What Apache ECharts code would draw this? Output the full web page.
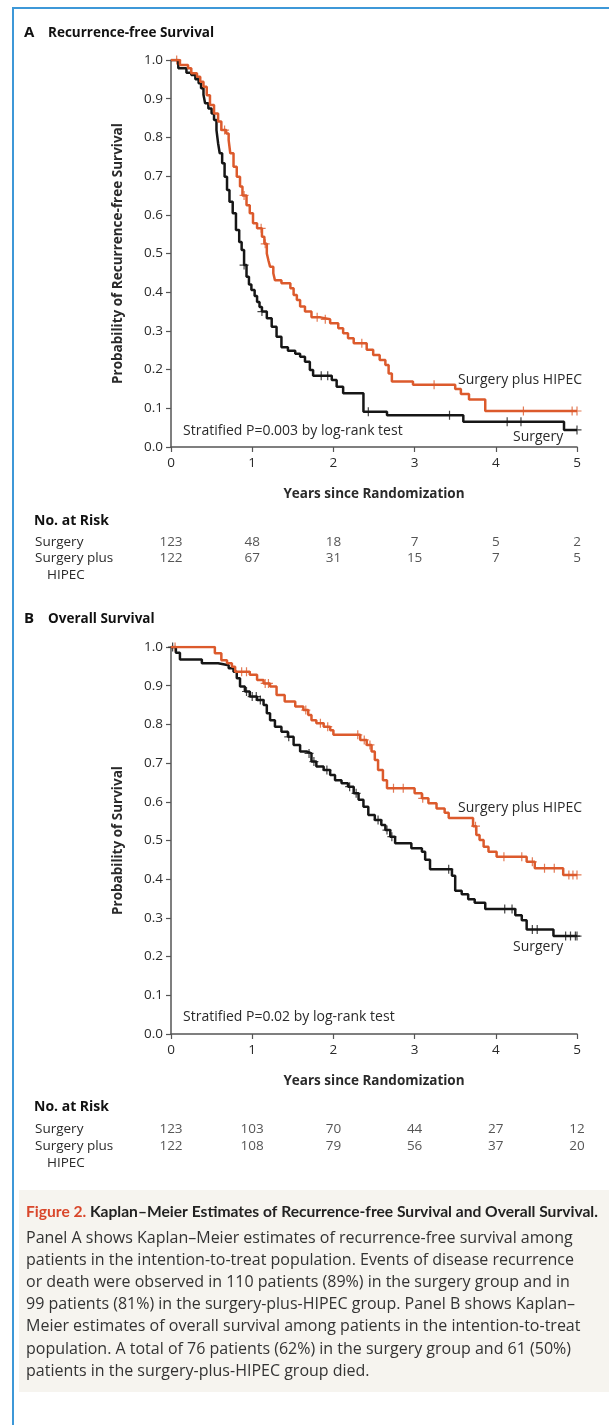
<!DOCTYPE html>
<html><head><meta charset="utf-8">
<script src="https://cdn.jsdelivr.net/npm/echarts@6/dist/echarts.min.js"></script>
<style>html,body{margin:0;padding:0;background:#fff}#c{width:609px;height:1425px}</style>
</head><body><div id="c"></div>
<script>
// ---------- data ----------
const yearTicks = [0, 1, 2, 3, 4, 5];
const riskRows = ['Surgery', 'Surgery plus', 'HIPEC'];

// Panel A: recurrence-free survival, [years, probability after step]
const rfsSurgery = [[0,1.0],[0.09,0.979],[0.19,0.967],[0.25,0.961],[0.30,0.950],[0.34,0.940],[0.37,0.927],[0.40,0.910],[0.42,0.888],[0.46,0.875],[0.50,0.862],[0.53,0.845],[0.56,0.819],[0.58,0.785],[0.60,0.759],[0.63,0.733],[0.66,0.698],[0.69,0.664],[0.72,0.634],[0.76,0.604],[0.80,0.561],[0.84,0.530],[0.87,0.509],[0.90,0.470],[0.93,0.440],[0.96,0.420],[0.99,0.406],[1.03,0.390],[1.06,0.375],[1.09,0.362],[1.12,0.350],[1.18,0.333],[1.24,0.311],[1.30,0.285],[1.36,0.258],[1.44,0.249],[1.53,0.241],[1.59,0.233],[1.65,0.220],[1.71,0.199],[1.75,0.184],[1.98,0.173],[2.04,0.156],[2.12,0.139],[2.37,0.091],[2.66,0.082],[3.60,0.065],[4.84,0.044],[5.0,0.044]];
const rfsSurgeryCensor = [0.90,1.12,1.85,1.93,2.43,3.43,4.14,4.31,5.0];
const rfsHipec = [[0,1.0],[0.11,0.987],[0.21,0.979],[0.25,0.966],[0.32,0.957],[0.36,0.944],[0.40,0.931],[0.44,0.909],[0.48,0.884],[0.53,0.862],[0.58,0.841],[0.62,0.819],[0.68,0.810],[0.71,0.793],[0.73,0.759],[0.77,0.724],[0.81,0.698],[0.85,0.673],[0.88,0.650],[0.93,0.625],[0.97,0.604],[1.01,0.578],[1.06,0.565],[1.12,0.543],[1.15,0.525],[1.18,0.500],[1.20,0.482],[1.22,0.466],[1.26,0.449],[1.28,0.431],[1.36,0.423],[1.47,0.410],[1.51,0.393],[1.55,0.380],[1.59,0.363],[1.65,0.350],[1.73,0.335],[1.84,0.330],[1.96,0.320],[2.06,0.307],[2.12,0.294],[2.18,0.281],[2.25,0.268],[2.41,0.251],[2.49,0.238],[2.57,0.225],[2.64,0.212],[2.68,0.190],[2.72,0.169],[2.98,0.161],[3.50,0.150],[3.57,0.137],[3.67,0.123],[3.87,0.093],[5.0,0.093]];
const rfsHipecCensor = [0.07,0.66,0.90,1.11,1.16,1.80,1.90,2.35,3.24,4.34,4.94,5.0];

// Panel B: overall survival
const osSurgery = [[0,1.0],[0.06,0.985],[0.11,0.968],[0.38,0.958],[0.58,0.953],[0.71,0.945],[0.77,0.936],[0.81,0.919],[0.85,0.898],[0.91,0.885],[0.97,0.872],[1.06,0.863],[1.14,0.850],[1.18,0.829],[1.22,0.811],[1.28,0.794],[1.36,0.781],[1.44,0.768],[1.51,0.747],[1.59,0.730],[1.67,0.725],[1.73,0.704],[1.79,0.691],[1.88,0.682],[1.96,0.669],[2.02,0.656],[2.10,0.648],[2.18,0.639],[2.25,0.622],[2.31,0.605],[2.37,0.587],[2.43,0.566],[2.51,0.553],[2.59,0.540],[2.64,0.527],[2.70,0.510],[2.76,0.493],[2.96,0.480],[3.09,0.471],[3.13,0.450],[3.19,0.426],[3.46,0.409],[3.50,0.370],[3.58,0.361],[3.66,0.348],[3.74,0.339],[3.87,0.323],[4.24,0.307],[4.32,0.294],[4.38,0.270],[4.71,0.253],[5.0,0.253]];
const osSurgeryCensor = [0.02,0.93,1.00,1.05,1.10,1.45,1.70,1.76,1.92,2.20,2.28,2.55,2.66,2.72,3.42,4.11,4.20,4.45,4.51,4.86,4.92,4.98,5.0];
const osHipec = [[0,1.0],[0.54,0.984],[0.62,0.966],[0.69,0.958],[0.75,0.949],[0.79,0.936],[0.97,0.928],[1.06,0.915],[1.14,0.906],[1.22,0.898],[1.30,0.876],[1.40,0.859],[1.53,0.846],[1.63,0.837],[1.69,0.824],[1.73,0.811],[1.79,0.803],[1.88,0.794],[1.96,0.785],[2.00,0.773],[2.33,0.760],[2.41,0.747],[2.47,0.730],[2.51,0.708],[2.55,0.682],[2.61,0.656],[2.66,0.635],[3.00,0.622],[3.09,0.609],[3.17,0.596],[3.27,0.583],[3.37,0.572],[3.42,0.558],[3.72,0.537],[3.76,0.514],[3.80,0.501],[3.85,0.484],[3.91,0.471],[4.01,0.458],[4.38,0.445],[4.48,0.428],[4.83,0.411],[5.0,0.411]];
const osHipecCensor = [0.05,0.87,0.93,1.16,1.20,1.66,1.84,1.93,2.30,2.38,2.45,2.74,2.86,3.10,3.75,4.10,4.32,4.45,4.60,4.72,4.90,4.95,5.0];

// numbers at risk at yearTicks
const riskA_surgery = [123, 48, 18, 7, 5, 2];
const riskA_hipec = [122, 67, 31, 15, 7, 5];
const riskB_surgery = [123, 103, 70, 44, 27, 12];
const riskB_hipec = [122, 108, 79, 56, 37, 20];

const captionLines = [
  'Panel A shows Kaplan\u2013Meier estimates of recurrence-free survival among',
  'patients in the intention-to-treat population. Events of disease recurrence',
  'or death were observed in 110 patients (89%) in the surgery group and in',
  '99 patients (81%) in the surgery-plus-HIPEC group. Panel B shows Kaplan\u2013',
  'Meier estimates of overall survival among patients in the intention-to-treat',
  'population. A total of 76 patients (62%) in the surgery group and 61 (50%)',
  'patients in the surgery-plus-HIPEC group died.'
];

// ---------- styling ----------
const FONT = '"Open Sans"';
const FONT_T = 'Lato';
const ORANGE = '#dc5a2c';
const BLACK = '#161616';
const AXIS = '#555';
const TXT = '#2a2a2a';
const CROSS = 'path://M-0.8,-6H0.8V-0.8H6V0.8H0.8V6H-0.8V0.8H-6V-0.8H-0.8Z';

function stepAt(curve, t) {
  let s = curve[0][1];
  for (const p of curve) { if (p[0] <= t + 1e-9) s = p[1]; }
  return s;
}

const chart = echarts.init(document.getElementById('c'), null, {renderer: 'canvas'});

const grids = [
  {left: 171, top: 60, width: 406, height: 387},
  {left: 171, top: 647, width: 406, height: 387},
  {left: 171, top: 534, width: 406, height: 49},
  {left: 171, top: 1120.5, width: 406, height: 51}
];

function mainX(i) {
  return {
    gridIndex: i, type: 'value', min: 0, max: 5, interval: 1,
    axisLine: {lineStyle: {color: AXIS, width: 1.5}},
    axisTick: {length: 5, lineStyle: {color: AXIS, width: 1.2}},
    axisLabel: {color: TXT, fontFamily: FONT, fontSize: 13.5, margin: 9},
    splitLine: {show: false},
    name: 'Years since Randomization', nameLocation: 'middle', nameGap: 40,
    nameTextStyle: {color: TXT, fontFamily: FONT, fontSize: 13.5, fontWeight: 'bold'}
  };
}
function mainY(i, name) {
  return {
    gridIndex: i, type: 'value', min: 0, max: 1, interval: 0.1,
    axisLine: {show: true, lineStyle: {color: AXIS, width: 1.5}},
    axisTick: {show: true, length: 5, lineStyle: {color: AXIS, width: 1.2}},
    axisLabel: {color: TXT, fontFamily: FONT, fontSize: 13.5, margin: 8, formatter: v => v.toFixed(1)},
    splitLine: {show: false},
    name: name, nameLocation: 'middle', nameGap: 46,
    nameTextStyle: {color: TXT, fontFamily: FONT, fontSize: 13.5, fontWeight: 'bold'}
  };
}
function tableX(i) {
  return {gridIndex: i, type: 'value', min: 0, max: 5, show: false};
}
function tableY(i) {
  return {
    gridIndex: i, type: 'category', data: riskRows, inverse: true,
    axisLine: {show: false}, axisTick: {show: false}, splitLine: {show: false},
    axisLabel: {
      interval: 0, hideOverlap: false,
      align: 'left', margin: 136, color: TXT, fontFamily: FONT, fontSize: 13.5,
      formatter: v => v === 'HIPEC' ? '{ind|' + v + '}' : v,
      rich: {ind: {padding: [0, 0, 0, 12], color: TXT, fontFamily: FONT, fontSize: 13.5}}
    }
  };
}

function kmLine(name, data, color, xi) {
  return {
    name, type: 'line', xAxisIndex: xi, yAxisIndex: xi, data, step: 'end',
    showSymbol: false, symbol: 'none', silent: true,
    lineStyle: {color, width: 2.5}
  };
}
function censor(data, times, color, xi) {
  return {
    type: 'scatter', xAxisIndex: xi, yAxisIndex: xi, silent: true,
    data: times.map(t => [t, stepAt(data, t)]),
    symbol: CROSS, symbolSize: 9, itemStyle: {color}
  };
}
function riskSeries(values, row, xi) {
  return {
    type: 'scatter', xAxisIndex: xi, yAxisIndex: xi, silent: true,
    symbolSize: 1, itemStyle: {color: 'rgba(0,0,0,0)'},
    data: yearTicks.map((t, k) => [t, row, values[k]]),
    label: {show: true, position: 'inside', formatter: p => String(p.value[2]),
      color: TXT, fontFamily: FONT, fontSize: 13.5}
  };
}

function txt(x, y, text, opts) {
  return Object.assign({type: 'text', x, y, silent: true, style: Object.assign({
    text, fill: TXT, font: '14px ' + FONT, align: 'left', verticalAlign: 'middle'
  }, opts || {})});
}

const graphics = [
  // blue frame
  {type: 'rect', silent: true, shape: {x: 12, y: 7, width: 2, height: 1418}, style: {fill: '#3d98d8'}},
  {type: 'rect', silent: true, shape: {x: 12, y: 7, width: 597, height: 2}, style: {fill: '#3d98d8'}},
  // caption box
  {type: 'rect', silent: true, shape: {x: 19, y: 1190, width: 590, height: 202}, style: {fill: '#f6f4ef'}},
  // panel headers
  txt(24, 33, 'A', {font: 'bold 15px ' + FONT, fill: '#111'}),
  txt(48, 33, 'Recurrence-free Survival', {font: 'bold 13.5px ' + FONT, fill: '#111'}),
  txt(24, 619, 'B', {font: 'bold 15px ' + FONT, fill: '#111'}),
  txt(48, 619, 'Overall Survival', {font: 'bold 13.5px ' + FONT, fill: '#111'}),
  txt(34, 521, 'No. at Risk', {font: 'bold 14px ' + FONT, fill: '#111'}),
  txt(34, 1107, 'No. at Risk', {font: 'bold 14px ' + FONT, fill: '#111'}),
  // annotations
  txt(183, 431, 'Stratified P=0.003 by log-rank test'),
  txt(458, 380, 'Surgery plus HIPEC'),
  txt(513, 437, 'Surgery'),
  txt(183, 1017, 'Stratified P=0.02 by log-rank test'),
  txt(458, 808, 'Surgery plus HIPEC'),
  txt(513, 947, 'Surgery'),
  // caption
  txt(26, 1212, '{r|Figure 2.} {b|Kaplan\u2013Meier Estimates of Recurrence-free Survival and Overall Survival.}', {rich: {
    r: {font: 'bold 15.6px ' + FONT_T, fill: '#d9472b'}, b: {font: 'bold 15.6px ' + FONT_T, fill: '#222'}}})
];
captionLines.forEach((line, i) => graphics.push(txt(26, 1238 + i * 22.2, line, {font: '16px ' + FONT, fill: '#333'})));

chart.setOption({
  animation: false,
  backgroundColor: '#fff',
  grid: grids,
  xAxis: [mainX(0), mainX(1), tableX(2), tableX(3)],
  yAxis: [mainY(0, 'Probability of Recurrence-free Survival'), mainY(1, 'Probability of Survival'), tableY(2), tableY(3)],
  series: [
    kmLine('Surgery', rfsSurgery, BLACK, 0),
    kmLine('Surgery plus HIPEC', rfsHipec, ORANGE, 0),
    censor(rfsSurgery, rfsSurgeryCensor, BLACK, 0),
    censor(rfsHipec, rfsHipecCensor, ORANGE, 0),
    kmLine('Surgery', osSurgery, BLACK, 1),
    kmLine('Surgery plus HIPEC', osHipec, ORANGE, 1),
    censor(osSurgery, osSurgeryCensor, BLACK, 1),
    censor(osHipec, osHipecCensor, ORANGE, 1),
    riskSeries(riskA_surgery, 'Surgery', 2),
    riskSeries(riskA_hipec, 'Surgery plus', 2),
    riskSeries(riskB_surgery, 'Surgery', 3),
    riskSeries(riskB_hipec, 'Surgery plus', 3)
  ],
  graphic: graphics
});
</script></body></html>
